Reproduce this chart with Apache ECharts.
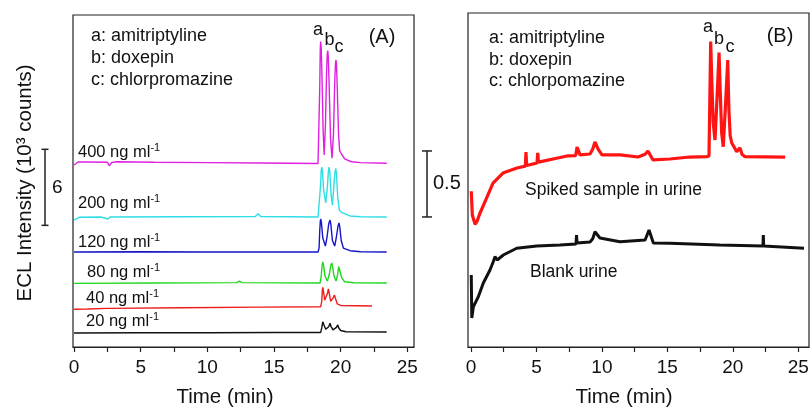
<!DOCTYPE html>
<html><head><meta charset="utf-8">
<script src="https://cdn.jsdelivr.net/npm/echarts@6/dist/echarts.min.js"></script>
<style>html,body{margin:0;padding:0;background:#fff}#c{width:812px;height:410px}</style>
</head><body><div id="c"></div>
<script>
// ---------- data ----------
const xTickLabels = [0, 5, 10, 15, 20, 25];
const xTickMarks = [0, 2.5, 5, 7.5, 10, 12.5, 15, 17.5, 20, 22.5, 25];
const concLabels = ['400 ng ml', '200 ng ml', '120 ng ml', '80 ng ml', '40 ng ml', '20 ng ml'];
const legendA = ['a: amitriptyline', 'b: doxepin', 'c: chlorpromazine'];
const legendB = ['a: amitriptyline', 'b: doxepin', 'c: chlorpomazine'];
const peakLetters = ['a', 'b', 'c'];
const scaleA = [9.6, 15.6];      // 6 (10^3 counts)
const scaleB = [0.985, 1.485];   // 0.5

const trace400 = [[0,14.36],[0.3,14.6],[1,14.6],[2.5,14.58],[2.65,14.3],[2.8,14.55],[3.2,14.62],[6,14.58],[10,14.55],[14,14.52],[18.3,14.48],[18.38,14.6],[18.43,20.5],[18.47,23.6],[18.5,24.1],[18.54,23.6],[18.6,21.2],[18.68,17.2],[18.76,15.15],[18.86,17.6],[18.94,21.6],[18.99,23.1],[19.03,23.4],[19.07,22.9],[19.13,20.8],[19.24,16.4],[19.35,14.9],[19.46,16.8],[19.55,20.8],[19.61,22.4],[19.65,22.65],[19.69,22.2],[19.75,20.2],[19.84,16.8],[19.92,15.5],[20.05,15.25],[20.3,14.85],[20.8,14.62],[21.5,14.55],[23.45,14.5]];
const trace200 = [[0,10.02],[0.4,10.24],[2,10.26],[2.55,10.1],[2.7,10.26],[8,10.28],[13.6,10.3],[13.8,10.52],[14,10.3],[18.3,10.26],[18.4,10.4],[18.48,12.6],[18.54,13.9],[18.58,14.2],[18.63,13.9],[18.72,12.4],[18.88,11.37],[19.0,12.6],[19.08,13.9],[19.13,14.2],[19.18,13.9],[19.28,12.0],[19.38,11.2],[19.48,12.6],[19.57,13.8],[19.63,14.1],[19.68,13.7],[19.78,11.8],[19.9,10.8],[20.1,10.6],[20.7,10.34],[21.5,10.28],[23.45,10.26]];
const trace120 = [[0,7.5],[5,7.52],[10,7.5],[15,7.5],[18.3,7.5],[18.38,7.8],[18.43,9.2],[18.47,9.9],[18.5,10.1],[18.55,9.85],[18.66,8.6],[18.85,7.97],[18.98,8.7],[19.1,9.7],[19.2,10.02],[19.26,9.7],[19.38,8.4],[19.55,7.97],[19.68,8.7],[19.8,9.55],[19.88,9.79],[19.94,9.4],[20.04,8.4],[20.2,7.81],[20.7,7.6],[21.5,7.52],[23.45,7.5]];
const trace80 = [[0,5.02],[6,5.05],[12.2,5.08],[12.4,5.2],[12.6,5.08],[18.45,5.05],[18.54,5.6],[18.6,6.4],[18.66,6.71],[18.71,6.5],[18.82,5.6],[19.0,5.2],[19.14,5.7],[19.26,6.45],[19.33,6.63],[19.38,6.4],[19.5,5.6],[19.65,5.2],[19.77,5.7],[19.85,6.35],[19.9,6.47],[19.95,6.2],[20.08,5.45],[20.3,5.15],[21,5.07],[23.45,5.05]];
const trace40 = [[0,2.98],[1,3.0],[2.5,3.05],[2.6,2.95],[2.7,3.05],[8,3.1],[14,3.15],[18.5,3.18],[18.58,3.6],[18.62,4.4],[18.66,4.71],[18.71,4.4],[18.8,3.7],[18.9,3.55],[19.0,4.2],[19.08,4.58],[19.14,4.25],[19.25,3.6],[19.35,3.5],[19.45,3.9],[19.53,4.1],[19.6,3.85],[19.75,3.4],[20.0,3.28],[22.35,3.24]];
const trace20 = [[0,1.1],[5,1.12],[10,1.13],[15,1.14],[18.5,1.15],[18.58,1.5],[18.66,1.99],[18.74,1.75],[18.88,1.4],[18.98,1.3],[19.1,1.6],[19.2,1.87],[19.28,1.6],[19.42,1.35],[19.55,1.3],[19.68,1.55],[19.78,1.74],[19.86,1.5],[20.0,1.3],[20.4,1.2],[23.45,1.18]];

const spiked = [[0.02,1.18],[0.1,1.0],[0.31,0.93],[0.45,0.95],[0.69,1.015],[1.22,1.136],[1.68,1.242],[2.44,1.318],[3.51,1.356],[4.15,1.37],[4.2,1.477],[4.25,1.375],[5.04,1.394],[5.1,1.47],[5.15,1.4],[6.8,1.435],[7.33,1.447],[8.0,1.45],[8.1,1.515],[8.33,1.455],[9.09,1.462],[9.3,1.5],[9.47,1.553],[9.7,1.5],[10.0,1.455],[11.4,1.455],[12.76,1.439],[13.3,1.46],[13.52,1.485],[13.9,1.417],[15.2,1.424],[16.7,1.439],[18.0,1.442],[18.18,1.447],[18.31,2.313],[18.4,2.0],[18.5,1.7],[18.64,1.568],[18.8,1.9],[18.95,2.23],[19.05,1.9],[19.15,1.62],[19.27,1.517],[19.45,1.85],[19.61,2.174],[19.7,1.8],[19.8,1.6],[19.92,1.545],[20.3,1.48],[20.55,1.508],[20.7,1.46],[20.93,1.442],[24.0,1.439]];
const blank = [[0.02,0.545],[0.06,0.22],[0.18,0.305],[0.56,0.381],[0.94,0.485],[1.45,0.583],[1.7,0.646],[1.83,0.684],[2.0,0.659],[2.47,0.697],[3.49,0.748],[5.02,0.765],[6.8,0.773],[8.02,0.78],[8.06,0.848],[8.1,0.788],[9.09,0.795],[9.3,0.82],[9.47,0.873],[9.85,0.826],[11.38,0.798],[13.3,0.811],[13.6,0.886],[13.93,0.788],[15.2,0.786],[19.0,0.773],[22.3,0.765],[22.33,0.848],[22.36,0.765],[25.44,0.748]];

// ---------- chart ----------
const FONT = '"Liberation Sans", Arial, Helvetica, sans-serif';
const chart = echarts.init(document.getElementById('c'), null, {renderer: 'canvas'});

function xAxisCfg(grid, min, max) {
  return {
    type: 'value', gridIndex: grid, min: min, max: max,
    axisLine: {show: true, lineStyle: {color: '#222', width: 1.2}},
    axisTick: {show: true, length: 5, lineStyle: {color: '#222', width: 1.2}, customValues: xTickMarks},
    axisLabel: {show: true, customValues: xTickLabels, fontSize: 19, color: '#111', fontFamily: FONT, margin: 11},
    splitLine: {show: false}
  };
}
function yAxisCfg(grid, max) {
  return {type: 'value', gridIndex: grid, min: 0, max: max,
    axisLine: {show: false}, axisTick: {show: false}, axisLabel: {show: false}, splitLine: {show: false}};
}
function line(data, color, xi, w) {
  return {type: 'line', xAxisIndex: xi, yAxisIndex: xi, data: data, showSymbol: false, symbol: 'none',
    lineStyle: {color: color, width: w}, itemStyle: {color: color}, silent: true};
}

chart.setOption({
  animation: false,
  backgroundColor: '#fff',
  grid: [
    {left: 73, top: 15, width: 341, height: 332, show: true, borderColor: '#222', borderWidth: 1.2, backgroundColor: 'transparent'},
    {left: 468, top: 13, width: 341, height: 334, show: true, borderColor: '#222', borderWidth: 1.2, backgroundColor: 'transparent'}
  ],
  xAxis: [xAxisCfg(0, -0.08, 25.5), xAxisCfg(1, -0.23, 25.82)],
  yAxis: [yAxisCfg(0, 26.2), yAxisCfg(1, 2.53)],
  series: [
    line(trace20, '#111111', 0, 1.4),
    line(trace40, '#ee1c1c', 0, 1.4),
    line(trace80, '#1fd81f', 0, 1.4),
    line(trace120, '#1616c8', 0, 1.4),
    line(trace200, '#2fdde6', 0, 1.4),
    line(trace400, '#e020e0', 0, 1.4),
    line(blank, '#111111', 1, 3),
    line(spiked, '#ff1414', 1, 3.2)
  ]
});

// ---------- annotations ----------
const g = [];
function txt(x, y, s, size, opts) {
  g.push({type: 'text', x: x, y: y, silent: true,
    style: Object.assign({text: s, fontSize: size, fontFamily: FONT, fill: '#111', verticalAlign: 'middle', align: 'left'}, opts || {})});
}
// legends
const legAY = [36, 58, 80], legBY = [38, 60, 81];
legendA.forEach((s, i) => txt(91, legAY[i], s, 18));
legendB.forEach((s, i) => txt(489, legBY[i], s, 18));
txt(382, 37, '(A)', 20, {align: 'center'});
txt(780, 36, '(B)', 20, {align: 'center'});
// peak letters
const pA = [[318, 30], [329.5, 40], [339, 47]], pB = [[708, 27], [719, 39], [730, 47]];
peakLetters.forEach((s, i) => { txt(pA[i][0], pA[i][1], s, 18, {align: 'center'}); txt(pB[i][0], pB[i][1], s, 18, {align: 'center'}); });
// concentration labels with superscript
const concPos = [[78, 152], [78, 203], [78, 242], [87, 272], [86, 298], [86, 321]];
concLabels.forEach((s, i) => {
  g.push({type: 'text', x: concPos[i][0], y: concPos[i][1], silent: true,
    style: {text: '{n|' + s + '}{s|-1}', verticalAlign: 'middle', align: 'left', fill: '#111',
      rich: {n: {fontSize: 16.5, fontFamily: FONT, lineHeight: 20, fill: '#111'},
             s: {fontSize: 11, fontFamily: FONT, lineHeight: 11, verticalAlign: 'top', fill: '#111'}}}});
});
txt(525, 190, 'Spiked sample in urine', 17.5);
txt(530, 272, 'Blank urine', 17.5);
// axis titles
txt(225, 397, 'Time (min)', 20.5, {align: 'center'});
txt(624, 397, 'Time (min)', 20.5, {align: 'center'});
g.push({type: 'text', x: 25, y: 183, rotation: Math.PI / 2, silent: true,
  style: {text: 'ECL Intensity (10³ counts)', fontSize: 20.5, fontFamily: FONT, fill: '#111', align: 'center', verticalAlign: 'middle'}});

// scale bars from axis scales
function scaleBar(xi, xv, ys, cap, label, lx, size) {
  const p1 = chart.convertToPixel({xAxisIndex: xi, yAxisIndex: xi}, [xv, ys[0]]);
  const p2 = chart.convertToPixel({xAxisIndex: xi, yAxisIndex: xi}, [xv, ys[1]]);
  const ls = {stroke: '#222', lineWidth: 1.5};
  g.push({type: 'line', silent: true, shape: {x1: p1[0], y1: p1[1], x2: p2[0], y2: p2[1]}, style: ls});
  g.push({type: 'line', silent: true, shape: {x1: p1[0] - cap, y1: p1[1], x2: p1[0] + cap, y2: p1[1]}, style: ls});
  g.push({type: 'line', silent: true, shape: {x1: p2[0] - cap, y1: p2[1], x2: p2[0] + cap, y2: p2[1]}, style: ls});
  txt(lx, (p1[1] + p2[1]) / 2, label, size);
}
scaleBar(0, -2.18, scaleA, 3.5, '6', 52, 19);
scaleBar(1, -3.36, scaleB, 5, '0.5', 433, 20);

chart.setOption({graphic: g});
</script>
</body></html>
